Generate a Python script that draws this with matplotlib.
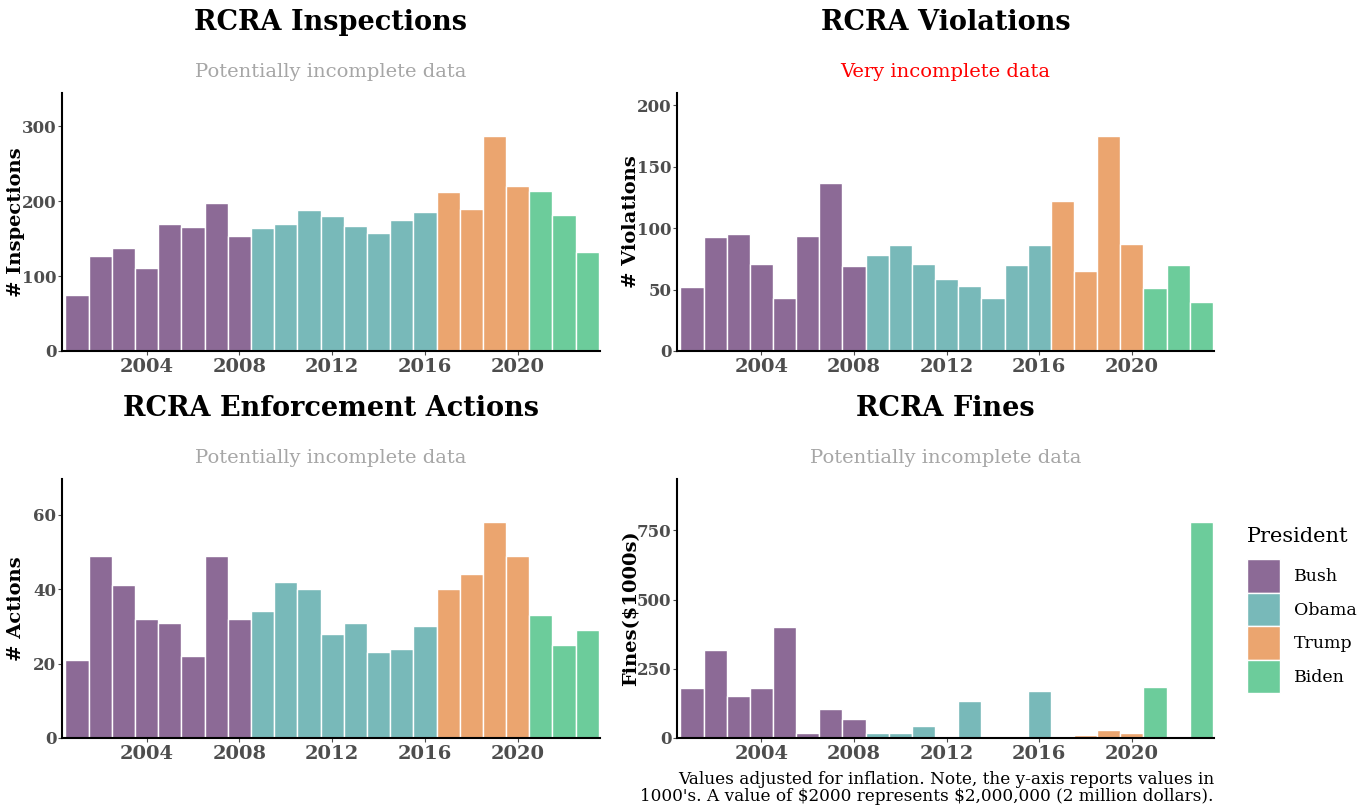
import numpy as np
import matplotlib
matplotlib.use("Agg")
import matplotlib.pyplot as plt
from matplotlib.patches import Patch

# Data
years = list(range(2001, 2024))
president = (["Bush"] * 8) + (["Obama"] * 8) + (["Trump"] * 4) + (["Biden"] * 3)

inspections = [75, 127, 137, 111, 170, 165, 197, 154, 164, 170, 188, 180, 167,
               157, 175, 185, 212, 190, 287, 220, 214, 181, 132]
violations = [52, 93, 95, 71, 43, 94, 137, 69, 78, 86, 71, 59, 53,
              43, 70, 86, 122, 65, 175, 87, 51, 70, 40]
actions = [21, 49, 41, 32, 31, 22, 49, 32, 34, 42, 40, 28, 31,
           23, 24, 30, 40, 44, 58, 49, 33, 25, 29]
fines = [180, 318, 153, 180, 400, 19, 106, 69, 18, 18, 42, 0, 135,
         0, 0, 169, 7, 12, 30, 18, 185, 0, 780]

colors = {"Bush": "#8c6a96", "Obama": "#78b9b9", "Trump": "#eba56f", "Biden": "#6ccc9b"}

panels = [
    ("RCRA Inspections", "Potentially incomplete data", "#a6a6a6", "# Inspections",
     inspections, [0, 100, 200, 300]),
    ("RCRA Violations", "Very incomplete data", "#ff0000", "# Violations",
     violations, [0, 50, 100, 150, 200]),
    ("RCRA Enforcement Actions", "Potentially incomplete data", "#a6a6a6", "# Actions",
     actions, [0, 20, 40, 60]),
    ("RCRA Fines", "Potentially incomplete data", "#a6a6a6", "Fines($1000s)",
     fines, [0, 250, 500, 750]),
]

W, H = 1359, 807
# axes boxes in pixels: left, top, right, bottom
boxes = [(62, 93, 600, 351), (677, 93, 1214, 351),
         (62, 479, 600, 738), (677, 479, 1214, 738)]

plt.rcParams['font.family'] = ['DejaVu Serif']

fig = plt.figure(figsize=(W / 100, H / 100), dpi=100)

for (title, sub, subcol, ylab, vals, yt), (l, t, r, b) in zip(panels, boxes):
    ax = fig.add_axes([l / W, 1 - b / H, (r - l) / W, (b - t) / H])
    bar_colors = [colors[p] for p in president]
    ax.bar(years, vals, width=1.0, color=bar_colors, edgecolor="white", linewidth=1.0)
    ax.set_xlim(2000.35, 2023.55)
    ax.set_ylim(0, max(vals) * 1.2)
    ax.set_xticks([2004, 2008, 2012, 2016, 2020])
    ax.set_yticks(yt)
    ax.tick_params(axis="x", labelsize=14, colors="#4d4d4d", length=3, pad=2)
    ax.tick_params(axis="y", labelsize=12, colors="#4d4d4d", length=3, pad=1)
    for lab in ax.get_xticklabels() + ax.get_yticklabels():
        lab.set_fontweight("bold")
    for s in ["top", "right"]:
        ax.spines[s].set_visible(False)
    for s in ["left", "bottom"]:
        ax.spines[s].set_linewidth(1.5)
        ax.spines[s].set_color("black")
    ax.set_ylabel(ylab.replace("$", r"\$"), fontsize=14, fontweight="bold", color="black")
    ax.yaxis.set_label_coords(-0.069, 0.5)
    hpx = b - t
    title_y = 22 if t < 200 else 409
    sub_y = 72 if t < 200 else 458
    ax.text(0.5, 1 + (t - title_y) / hpx, title, transform=ax.transAxes,
            ha="center", va="center", fontsize=19.5, fontweight="bold")
    ax.text(0.5, 1 + (t - sub_y) / hpx, sub, transform=ax.transAxes,
            ha="center", va="center", fontsize=14, color=subcol)

# legend, title drawn separately to get the gap above the keys
fig.text(1247 / W, 1 - 537 / H, "President", ha="left", va="center", fontsize=15)
handles = [Patch(facecolor=colors[k], edgecolor="white", label=k)
           for k in ["Bush", "Obama", "Trump", "Biden"]]
leg = fig.legend(handles=handles, loc="upper left",
                 bbox_to_anchor=(1240 / W, 1 - 552 / H), frameon=False,
                 fontsize=12.5, handlelength=1.9, handleheight=2.6,
                 labelspacing=0.0, handletextpad=0.8, borderaxespad=0)

fig.text(1214 / W, 1 - 788 / H,
         "Values adjusted for inflation. Note, the y-axis reports values in\n"
         "1000's. A value of \\$2000 represents \\$2,000,000 (2 million dollars).",
         ha="right", va="center", fontsize=12.15, multialignment="right", linespacing=1.0)

fig.savefig("out.png", dpi=100)
